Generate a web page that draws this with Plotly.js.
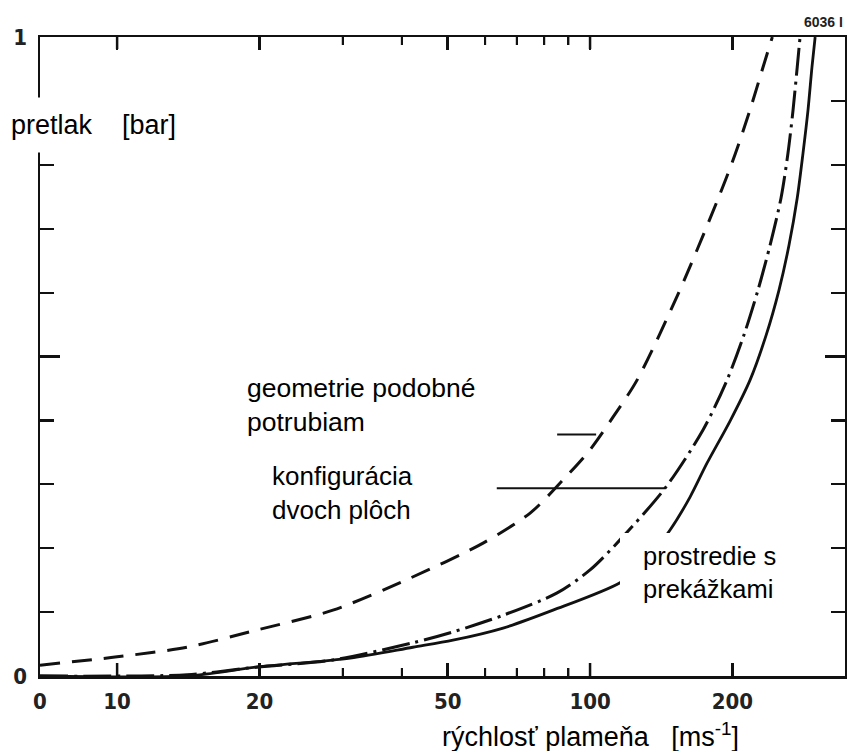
<!DOCTYPE html>
<html>
<head>
<meta charset="utf-8">
<script src="https://cdn.plot.ly/plotly-3.0.1.min.js"></script>
<style>html,body{margin:0;padding:0;background:#fff;}#chart{width:847px;height:751px;}</style>
</head>
<body>
<div id="chart"></div>
<script>
// ---- data ----
const X_ZERO = 6.87;   // left edge of the log axis, labelled "0"
const X_MAX = 346;
const xTickVals = [X_ZERO, 10, 20, 50, 100, 200];
const xTickText = ["0", "10", "20", "50", "100", "200"];
const xMajorTickVals = [10, 20, 50, 100, 200];
const xMinorVals = [30, 40, 60, 70, 80, 90];
const yTickVals = [0, 1];
const yTickText = ["0", "1"];
const yMidVals = [0.5];

// geometrie podobné potrubiam (dashed)
const pipeV = [6.87, 10, 14.06, 19.77, 28.6, 41.6, 59.4, 74.7, 87.7, 100, 111.8, 125.7, 154.2, 186.8, 203.0, 217.9, 232.2, 242.9];
const pipeP = [0.017, 0.030, 0.045, 0.072, 0.103, 0.153, 0.208, 0.255, 0.307, 0.354, 0.405, 0.463, 0.601, 0.748, 0.818, 0.886, 0.953, 1.0];

// konfigurácia dvoch plôch (dash-dot)
const planeV = [6.87, 14.06, 19.77, 28.6, 42.2, 51.3, 65.5, 85.2, 100, 115.7, 144.1, 173.3, 194.8, 211.6, 226.5, 240.2, 253.4, 262.1, 268.7, 274.2, 278.0];
const planeP = [0.0, 0.002, 0.014, 0.025, 0.052, 0.069, 0.095, 0.130, 0.166, 0.213, 0.294, 0.385, 0.463, 0.534, 0.604, 0.674, 0.748, 0.818, 0.886, 0.953, 1.0];

// prostredie s prekážkami (solid)
const obstV = [6.87, 14.06, 19.77, 31.1, 42.2, 51.3, 65.5, 83.5, 115.7, 130.7, 147.5, 162.7, 176.7, 197.7, 217.9, 235.6, 250.9, 263.4, 274.2, 282.0, 289.0, 294.6, 299.2];
const obstP = [0.0, 0.0, 0.014, 0.028, 0.045, 0.056, 0.075, 0.103, 0.146, 0.178, 0.228, 0.280, 0.333, 0.399, 0.463, 0.533, 0.604, 0.674, 0.748, 0.818, 0.886, 0.953, 1.0];

// leader lines of the labels
const leader1V = [85.2, 103];
const leader1P = [0.378, 0.378];
const leader2V = [63.5, 144.1];
const leader2P = [0.294, 0.294];

// ---- chart ----
const INK = '#111';
const TEXT_FONT = 'Liberation Sans, Arial, sans-serif';
const TICK_FONT = {family: 'Liberation Sans Narrow, DejaVu Sans Condensed, Arial Narrow, sans-serif', size: 22, weight: 'bold', color: '#222'};

const L = 40, T = 37, W = 805, H = 639;
const px = v => (v - L) / W;
const py = v => (T + H - v) / H;
const XR = [Math.log10(X_ZERO), Math.log10(X_MAX)];

// x-axis tick marks (bottom edge and mirrored top edge) as line traces
function tickTrace(vals, lenPx, width, top) {
  const h = lenPx / H;
  const xs = [], ys = [];
  vals.forEach(v => {
    xs.push(v, v, null);
    if (top) ys.push(1, 1 - h, null); else ys.push(0, h, null);
  });
  return {x: xs, y: ys, mode: 'lines', connectgaps: false, line: {color: INK, width: width}, hoverinfo: 'skip'};
}

const traces = [
  {x: pipeV, y: pipeP, mode: 'lines', line: {color: INK, width: 3, dash: '20px,12px', shape: 'spline', smoothing: 0.8}},
  {x: planeV, y: planeP, mode: 'lines', line: {color: INK, width: 3, dash: '28px,6px,3px,6px', shape: 'spline', smoothing: 0.8}},
  {x: obstV, y: obstP, mode: 'lines', line: {color: INK, width: 2.8, shape: 'spline', smoothing: 0.8}},
  {x: leader1V, y: leader1P, xaxis: 'x2', yaxis: 'y2', mode: 'lines', line: {color: INK, width: 2}},
  {x: leader2V, y: leader2P, xaxis: 'x2', yaxis: 'y2', mode: 'lines', line: {color: INK, width: 2}},
  tickTrace(xMajorTickVals, 13, 2.5, false),
  tickTrace(xMajorTickVals, 12, 2.5, true),
  tickTrace(xMinorVals, 8, 2, false),
  tickTrace(xMinorVals, 8, 2, true)
];

const axisBase = {
  showline: true, linewidth: 2.5, linecolor: INK, mirror: 'ticks',
  ticks: 'inside', tickcolor: INK, showgrid: false, zeroline: false
};

const layout = {
  width: 847, height: 751,
  margin: {l: L, r: 2, t: T, b: 75, pad: 0},
  paper_bgcolor: '#fff', plot_bgcolor: '#fff',
  showlegend: false,
  xaxis: Object.assign({}, axisBase, {
    type: 'log', range: XR,
    ticklen: 13, tickwidth: 2.5,
    tickmode: 'array', tickvals: xTickVals, ticktext: xTickText,
    tickfont: TICK_FONT, ticklabelstandoff: 4
  }),
  xaxis2: Object.assign({}, axisBase, {
    type: 'log', range: XR, overlaying: 'x', anchor: 'y2', side: 'bottom',
    ticklen: 8, tickwidth: 2,
    tickmode: 'array', tickvals: xMinorVals, showticklabels: false
  }),
  yaxis: Object.assign({}, axisBase, {
    range: [0, 1],
    ticklen: 14, tickwidth: 2.2,
    tickmode: 'array', tickvals: yTickVals, ticktext: yTickText,
    tickfont: TICK_FONT, ticklabelstandoff: 6,
    minor: {dtick: 0.1, ticks: 'inside', ticklen: 14, tickwidth: 2.2, tickcolor: INK, showgrid: false}
  }),
  yaxis2: Object.assign({}, axisBase, {
    range: [0, 1], overlaying: 'y', anchor: 'x2', side: 'left',
    ticklen: 20, tickwidth: 2.5,
    tickmode: 'array', tickvals: yMidVals, showticklabels: false
  }),
  shapes: [
    {type: 'rect', xref: 'paper', yref: 'paper', x0: px(620), x1: px(790), y0: py(615), y1: py(533),
     fillcolor: '#fff', line: {width: 0}, layer: 'above'}
  ],
  annotations: [
    {xref: 'paper', yref: 'paper', x: px(-2), y: py(125), xanchor: 'left', yanchor: 'middle',
     text: 'pretlak\u00a0\u00a0\u00a0\u00a0[bar]', showarrow: false, bgcolor: '#fff', borderpad: 12,
     font: {family: TEXT_FONT, size: 27, color: '#000'}},
    {xref: 'paper', yref: 'paper', x: px(440), y: py(735), xanchor: 'left', yanchor: 'middle',
     text: 'rýchlosť plameňa\u00a0\u00a0\u00a0[ms<sup>-1</sup>]', showarrow: false,
     font: {family: TEXT_FONT, size: 27, color: '#000'}},
    {xref: 'paper', yref: 'paper', x: px(245), y: py(405), xanchor: 'left', yanchor: 'middle', align: 'left',
     text: 'geometrie podobné<br>potrubiam', showarrow: false,
     font: {family: TEXT_FONT, size: 26.5, color: '#000'}},
    {xref: 'paper', yref: 'paper', x: px(270), y: py(493), xanchor: 'left', yanchor: 'middle', align: 'left',
     text: 'konfigurácia<br>dvoch plôch', showarrow: false,
     font: {family: TEXT_FONT, size: 26, color: '#000'}},
    {xref: 'paper', yref: 'paper', x: px(641), y: py(572), xanchor: 'left', yanchor: 'middle', align: 'left',
     text: 'prostredie s<br>prekážkami', showarrow: false,
     font: {family: TEXT_FONT, size: 25.5, color: '#000'}},
    {xref: 'paper', yref: 'paper', x: px(845), y: py(22), xanchor: 'right', yanchor: 'middle',
     text: '6036 I', showarrow: false,
     font: {family: TEXT_FONT, size: 14, weight: 'bold', color: '#222'}}
  ]
};

Plotly.newPlot('chart', traces, layout, {displayModeBar: false, staticPlot: true});
</script>
</body>
</html>
